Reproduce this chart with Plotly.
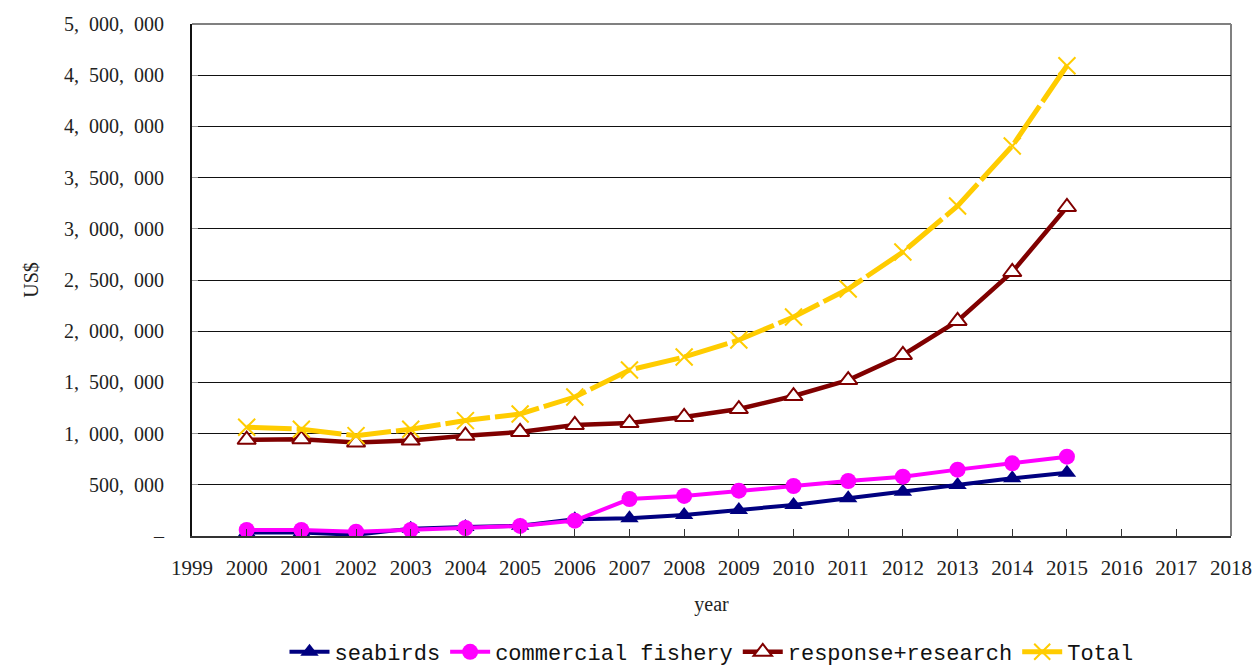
import plotly.graph_objects as go

years = list(range(2000, 2016))
seabirds = [33000, 33000, 12000, 72000, 88000, 101000, 163000, 173000, 205000, 254000,
            303000, 368000, 433000, 498000, 563000, 618000]
commercial_fishery = [59000, 59000, 42000, 59000, 78000, 98000, 150000, 361000, 391000, 443000,
                      488000, 537000, 579000, 648000, 710000, 775000]
response_research = [940000, 945000, 912000, 932000, 979000, 1016000, 1084000, 1103000, 1162000, 1240000,
                     1367000, 1523000, 1768000, 2100000, 2578000, 3213000]
total = [1062000, 1043000, 980000, 1043000, 1127000, 1192000, 1357000, 1621000, 1748000, 1914000,
         2139000, 2412000, 2773000, 3223000, 3809000, 4592000]

y_tickvals = [0, 500000, 1000000, 1500000, 2000000, 2500000, 3000000, 3500000, 4000000, 4500000, 5000000]
y_ticktext = ["–", "500,\u2002000", "1,\u2002000,\u2002000", "1,\u2002500,\u2002000",
              "2,\u2002000,\u2002000", "2,\u2002500,\u2002000", "3,\u2002000,\u2002000",
              "3,\u2002500,\u2002000", "4,\u2002000,\u2002000", "4,\u2002500,\u2002000", "5,\u2002000,\u2002000"]
x_tickvals = list(range(1999, 2019))

serif = "Liberation Serif"
mono = "Liberation Mono"

fig = go.Figure()
fig.add_trace(go.Scatter(
    x=years, y=seabirds, name="seabirds", mode="lines+markers",
    line=dict(color="#000080", width=4),
    marker=dict(symbol="triangle-up", size=16, color="#000080")))
fig.add_trace(go.Scatter(
    x=years, y=commercial_fishery, name="commercial fishery", mode="lines+markers",
    line=dict(color="#FF00FF", width=4),
    marker=dict(symbol="circle", size=16, color="#FF00FF")))
fig.add_trace(go.Scatter(
    x=years, y=response_research, name="response+research", mode="lines+markers",
    line=dict(color="#800000", width=4.5),
    marker=dict(symbol="triangle-up", size=16, color="white", line=dict(color="#800000", width=2))))
fig.add_trace(go.Scatter(
    x=years, y=total, name="Total", mode="lines+markers",
    line=dict(color="#FFCC00", width=5, dash="45px,5px"),
    marker=dict(symbol="x-thin-open", size=17, color="#FFCC00", line=dict(color="#FFCC00", width=2))))

fig.update_layout(
    width=1255, height=669,
    margin=dict(l=192, r=24, t=24, b=133, autoexpand=False),
    paper_bgcolor="white", plot_bgcolor="white",
    font=dict(family=serif, size=20, color="#222"),
    showlegend=True,
    legend=dict(orientation="h", x=0.5, xanchor="center", xref="paper",
                y=17 / 669, yanchor="middle", yref="container",
                font=dict(family=mono, size=22, color="#111"),
                itemwidth=40, tracegroupgap=0, traceorder="normal"),
    xaxis=dict(range=[1999, 2018], tickvals=x_tickvals, ticktext=[str(v) for v in x_tickvals],
               tickfont=dict(family=serif, size=21, color="#222"),
               showgrid=False, zeroline=False, automargin=False,
               showline=True, linecolor="#333", linewidth=2,
               ticks="inside", ticklen=7, tickcolor="#333", tickwidth=1,
               ticklabelstandoff=12,
               title=dict(text="year", font=dict(family=serif, size=20, color="#222"), standoff=18)),
    yaxis=dict(range=[0, 5000000], tickvals=y_tickvals, ticktext=y_ticktext,
               tickfont=dict(family=serif, size=20, color="#222"),
               showgrid=True, gridcolor="#111", gridwidth=1,
               zeroline=False, automargin=False,
               showline=True, linecolor="#111", linewidth=2,
               ticks="inside", ticklen=6, tickcolor="#999",
               ticklabelstandoff=22,
               title=dict(text="US$", font=dict(family=serif, size=20, color="#222"), standoff=20)),
    shapes=[
        dict(type="line", xref="paper", yref="paper", x0=0, x1=1, y0=1, y1=1,
             line=dict(color="#808080", width=2), layer="below"),
        dict(type="line", xref="paper", yref="paper", x0=1, x1=1, y0=0, y1=1,
             line=dict(color="#808080", width=2), layer="below"),
    ],
)

fig.write_html("out.html")
